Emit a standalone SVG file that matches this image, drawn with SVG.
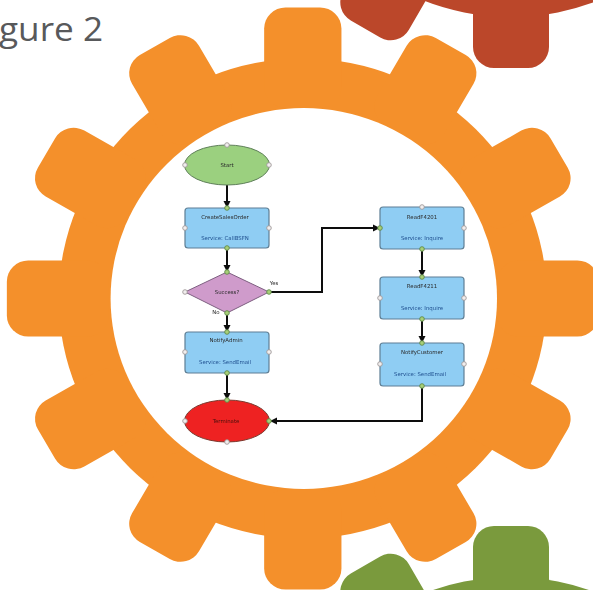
<svg xmlns="http://www.w3.org/2000/svg" width="593" height="590" viewBox="0 0 593 590">
<style>
.lbl{font-family:"DejaVu Sans",Verdana,sans-serif;font-size:5.4px;text-anchor:middle;fill:#2b2b2b}
.svc{fill:#1f4f8f}
.task{fill:#8fcdf3;stroke:#5f7f95;stroke-width:1.2}
.conn{fill:none;stroke:#111;stroke-width:2}
.h0{fill:#f1eeee;stroke:#a09a9a;stroke-width:.9}
.h1{fill:#a8cf78;stroke:#5f8a4a;stroke-width:.9}
</style>
<defs>
<rect id="tooth" x="-38" y="-291" width="76" height="100" rx="21" ry="21"/>
<g id="gear">
<circle r="240"/>
<use href="#tooth"/><use href="#tooth" transform="rotate(30)"/><use href="#tooth" transform="rotate(60)"/>
<use href="#tooth" transform="rotate(90)"/><use href="#tooth" transform="rotate(120)"/><use href="#tooth" transform="rotate(150)"/>
<use href="#tooth" transform="rotate(180)"/><use href="#tooth" transform="rotate(210)"/><use href="#tooth" transform="rotate(240)"/>
<use href="#tooth" transform="rotate(270)"/><use href="#tooth" transform="rotate(300)"/><use href="#tooth" transform="rotate(330)"/>
</g>
<marker id="ah" markerUnits="userSpaceOnUse" markerWidth="8" markerHeight="8" refX="7" refY="4" orient="auto"><path d="M0 .5L7 4L0 7.500z" fill="#111"/></marker>
<filter id="soft" x="-5%" y="-5%" width="110%" height="110%"><feGaussianBlur stdDeviation=".5"/></filter>
</defs>
<rect width="593" height="590" fill="#fff"/>
<use id="gear-red" href="#gear" transform="translate(511 -223)" fill="#bb472a"/>
<use id="gear-green" href="#gear" transform="translate(511 817)" fill="#7a9a3d"/>
<g id="gear-orange">
<use href="#gear" transform="translate(302.800 298.500) scale(1.017 1)" fill="#f4902b"/>
<ellipse cx="303.800" cy="298.500" rx="193.200" ry="190.500" fill="#fff"/>
</g>
<text id="title" x="-1" y="41" font-family="'Open Sans','Noto Sans',sans-serif" font-size="33" fill="#58595b" textLength="104" lengthAdjust="spacingAndGlyphs">gure 2</text>
<g filter="url(#soft)">
<g id="connectors">
<path class="conn" marker-end="url(#ah)" d="M227 185V208"/>
<path class="conn" marker-end="url(#ah)" d="M227 248V272"/>
<path class="conn" marker-end="url(#ah)" d="M227 313V332"/>
<path class="conn" marker-end="url(#ah)" d="M227 373V400"/>
<path class="conn" marker-end="url(#ah)" d="M269 292H322V228H380"/>
<path class="conn" marker-end="url(#ah)" d="M422 249V277"/>
<path class="conn" marker-end="url(#ah)" d="M422 319V343"/>
<path class="conn" marker-end="url(#ah)" d="M422 386V421H270"/>
<text class="lbl" x="274" y="285">Yes</text>
<text class="lbl" x="216" y="313.500">No</text>
</g>
<g id="start">
<ellipse cx="227" cy="165" rx="42.500" ry="20" fill="#9bd07f" stroke="#5f7f5a"/>
<text class="lbl" x="227" y="167">Start</text>
<circle class="h0" cx="227" cy="145" r="2.300"/><circle class="h0" cx="185" cy="165" r="2.300"/><circle class="h0" cx="269" cy="165" r="2.300"/>
</g>
<g id="create-sales-order">
<rect class="task" x="185" y="208" width="84" height="40" rx="3"/>
<text class="lbl" x="225" y="219">CreateSalesOrder</text>
<text class="lbl svc" x="225" y="240">Service: CallBSFN</text>
<circle class="h1" cx="227" cy="208" r="2.300"/><circle class="h1" cx="227" cy="248" r="2.300"/><circle class="h0" cx="185" cy="228" r="2.300"/><circle class="h0" cx="269" cy="228" r="2.300"/>
</g>
<g id="success">
<path d="M227 272L269 292L227 313L185 292z" fill="#cf9bcb" stroke="#7d5f80"/>
<text class="lbl" x="227" y="294">Success?</text>
<circle class="h1" cx="227" cy="272" r="2.300"/><circle class="h1" cx="227" cy="313" r="2.300"/><circle class="h0" cx="185" cy="292" r="2.300"/><circle class="h1" cx="269" cy="292" r="2.300"/>
</g>
<g id="notify-admin">
<rect class="task" x="185" y="332" width="84" height="41" rx="3"/>
<text class="lbl" x="226" y="342">NotifyAdmin</text>
<text class="lbl svc" x="225" y="364">Service: SendEmail</text>
<circle class="h1" cx="227" cy="332" r="2.300"/><circle class="h1" cx="227" cy="373" r="2.300"/><circle class="h0" cx="185" cy="352" r="2.300"/><circle class="h0" cx="269" cy="352" r="2.300"/>
</g>
<g id="terminate">
<ellipse cx="227" cy="421" rx="42.500" ry="21" fill="#ee2420" stroke="#7a3a30"/>
<text class="lbl" x="226" y="423" style="fill:#4a1010">Terminate</text>
<circle class="h1" cx="227" cy="400" r="2.300"/><circle class="h0" cx="185" cy="421" r="2.300"/><circle class="h1" cx="269" cy="421" r="2.300"/><circle class="h0" cx="227" cy="442" r="2.300"/>
</g>
<g id="read-f4201">
<rect class="task" x="380" y="207" width="84" height="42" rx="3"/>
<text class="lbl" x="422" y="219">ReadF4201</text>
<text class="lbl svc" x="422" y="240">Service: Inquire</text>
<circle class="h0" cx="422" cy="207" r="2.300"/><circle class="h1" cx="422" cy="249" r="2.300"/><circle class="h1" cx="380" cy="228" r="2.300"/><circle class="h0" cx="464" cy="228" r="2.300"/>
</g>
<g id="read-f4211">
<rect class="task" x="380" y="277" width="84" height="42" rx="3"/>
<text class="lbl" x="422" y="288">ReadF4211</text>
<text class="lbl svc" x="422" y="310">Service: Inquire</text>
<circle class="h1" cx="422" cy="277" r="2.300"/><circle class="h1" cx="422" cy="319" r="2.300"/><circle class="h0" cx="380" cy="298" r="2.300"/><circle class="h0" cx="464" cy="298" r="2.300"/>
</g>
<g id="notify-customer">
<rect class="task" x="380" y="343" width="84" height="43" rx="3"/>
<text class="lbl" x="422" y="354">NotifyCustomer</text>
<text class="lbl svc" x="420" y="376">Service: SendEmail</text>
<circle class="h1" cx="422" cy="343" r="2.300"/><circle class="h1" cx="422" cy="386" r="2.300"/><circle class="h0" cx="380" cy="364" r="2.300"/><circle class="h0" cx="464" cy="364" r="2.300"/>
</g>
</g>
</svg>
